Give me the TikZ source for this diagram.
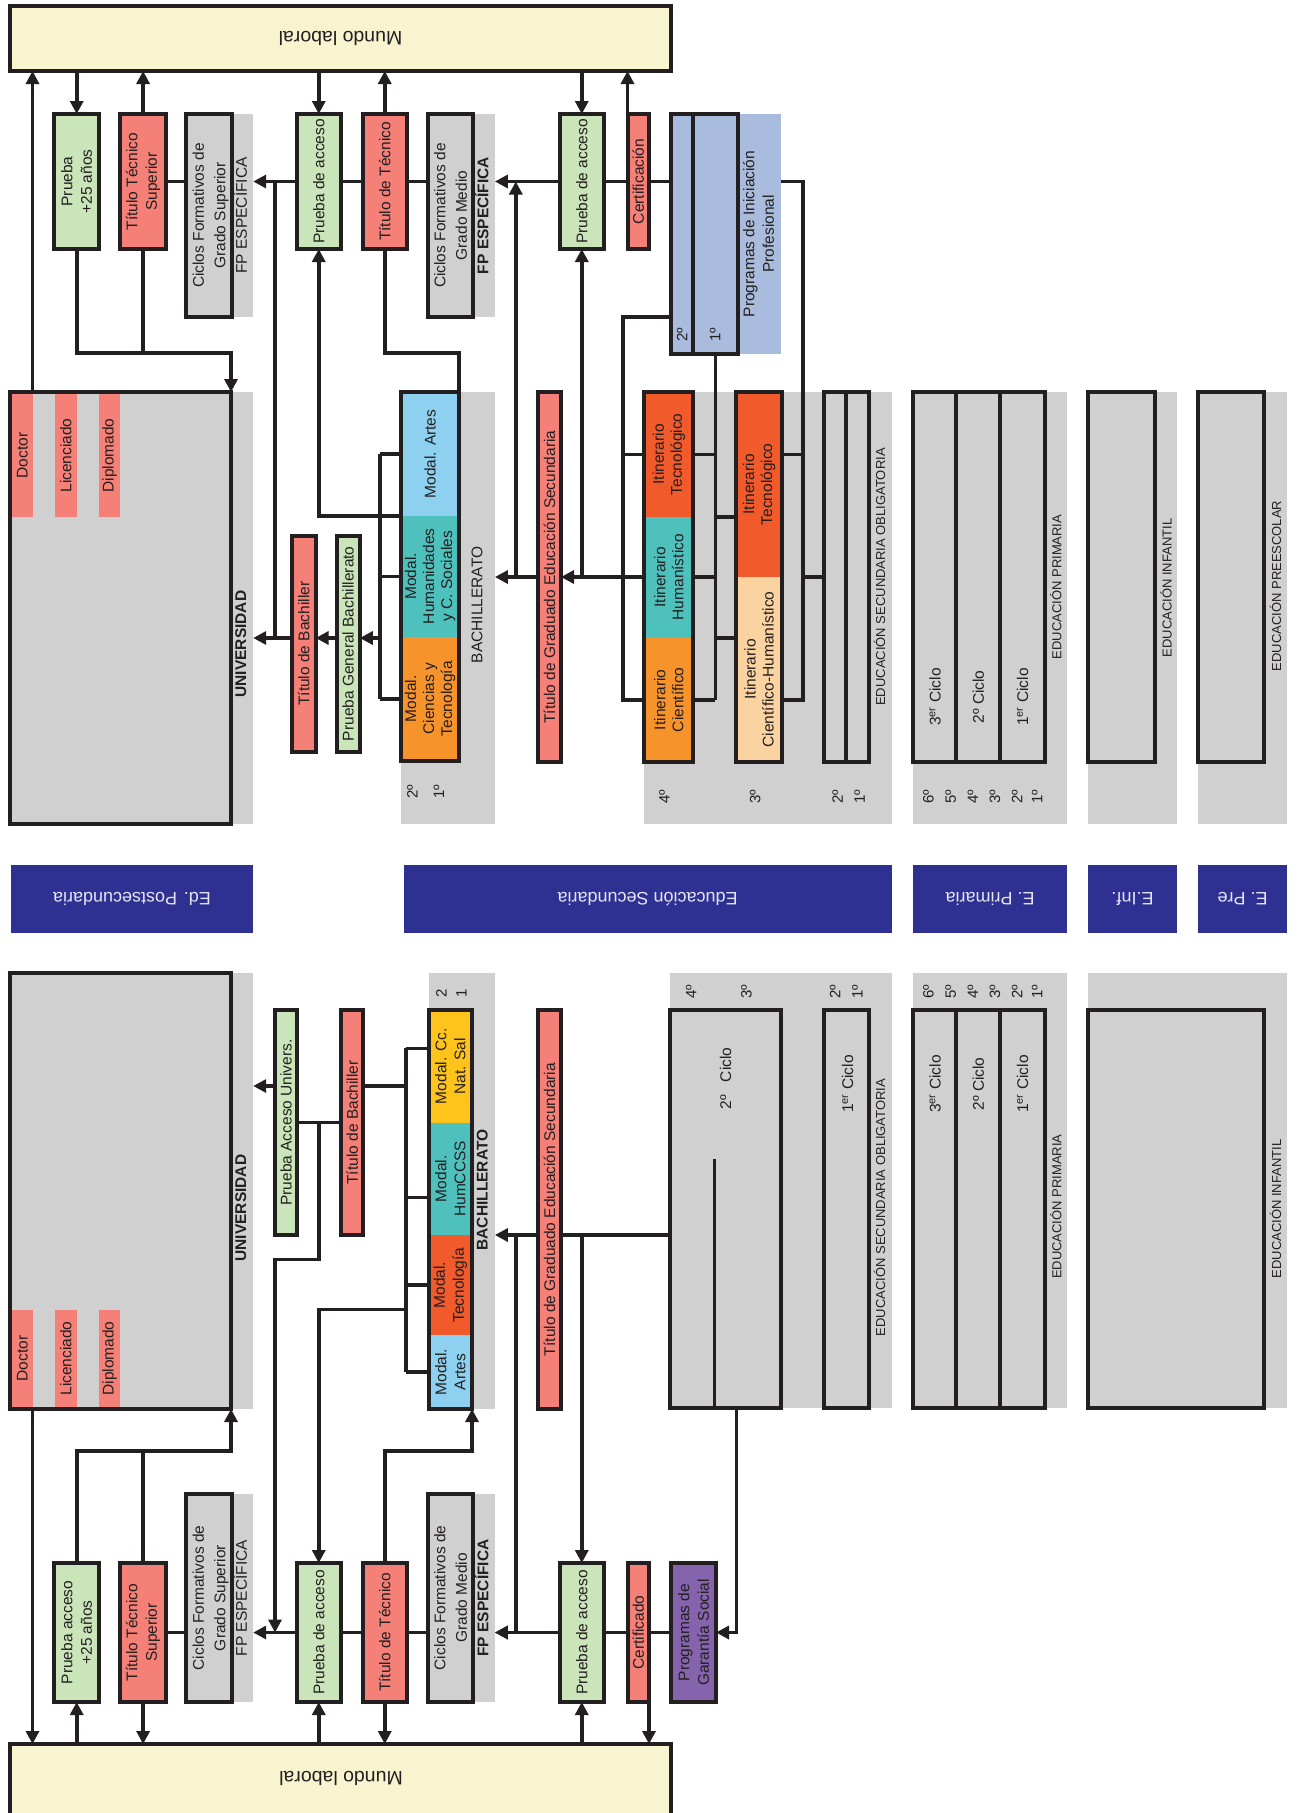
\documentclass[tikz,border=0pt]{standalone}
\usepackage{fontspec}
\setmainfont{Liberation Sans}
\usetikzlibrary{arrows.meta,fit,calc}
\definecolor{ln}{HTML}{231F20}
\definecolor{cream}{HTML}{F8F4D0}
\definecolor{grn}{HTML}{CAE5B9}
\definecolor{rd}{HTML}{F48078}
\definecolor{gy}{HTML}{D0D0D0}
\definecolor{pip}{HTML}{AABCDD}
\definecolor{lb}{HTML}{8ED0EF}
\definecolor{tl}{HTML}{4EC1BD}
\definecolor{org}{HTML}{F7932B}
\definecolor{orr}{HTML}{F15A2A}
\definecolor{yel}{HTML}{FEC41B}
\definecolor{pch}{HTML}{FBD3A0}
\definecolor{pur}{HTML}{8564AD}
\definecolor{dbl}{HTML}{2E3192}
\definecolor{btx}{HTML}{E4E4F2}
\begin{document}
\begin{tikzpicture}[x=1pt,y=-1pt,
  bx/.style={draw=ln, line width=4pt, inner sep=0pt, outer sep=0pt},
  fl/.style={draw=none, inner sep=0pt, outer sep=0pt},
  bar/.style={fl, fill=dbl},
  conn/.style={draw=ln, line width=3.6pt},
  arr/.style={conn, -{Triangle[length=13pt,width=13pt]}},
  dv/.style={draw=ln, line width=3.6pt},
  vt/.style={rotate=90, align=center, text=ln, inner sep=0pt, font=\fontsize{15.5}{19.5}\selectfont},
  vtb/.style={vt, font=\fontsize{15.5}{19.5}\selectfont\bfseries},
  sm/.style={rotate=90, text=ln, inner sep=0pt, font=\fontsize{13}{15}\selectfont},
  num/.style={rotate=90, text=ln, inner sep=0pt, font=\fontsize{15}{18}\selectfont},
  bt/.style={rotate=180, text=btx, inner sep=0pt, font=\fontsize{18}{21}\selectfont},
  ml/.style={rotate=180, text=ln, inner sep=0pt, font=\fontsize{19.5}{23}\selectfont}]
\useasboundingbox (0,0) rectangle (1297,1813);
\clip (0,0) rectangle (1297,1813);

% ---------- named helper coordinates ----------
\coordinate (yT1) at (0,353);
\coordinate (yBA) at (0,638);
\coordinate (yP) at (0,316.7);
\coordinate (xV1) at (275,0);
\coordinate (xV2) at (515.8,0);
\coordinate (xV3) at (622.7,0);
\coordinate (xV4) at (802.8,0);
\coordinate (xV6) at (379.8,0);
\coordinate (yB1) at (0,1086);
\coordinate (yB2) at (0,1259.3);
\coordinate (yB3) at (0,1309.3);
\coordinate (yB4) at (0,1235);
\coordinate (yB5) at (0,1451);
\coordinate (yK1) at (0,1048.3);
\coordinate (yK2) at (0,1197.3);
\coordinate (xV9) at (405.7,0);
\coordinate (xV10) at (736.5,0);

% =================== TOP HALF ===================
% bands
\node[fl, fill=gy, fit={(10,392) (253.2,824)}] (ubandT) {};
\node[fl, fill=gy, fit={(186.4,114) (253.2,317)}] (cgsbT) {};
\node[fl, fill=gy, fit={(428,114) (494.9,317)}] (cgmbT) {};
\node[fl, fill=pip, fit={(671,114) (781,354)}] (pipbT) {};
\node[fl, fill=gy, fit={(401.2,392) (494.9,824)}] (bbandT) {};
\node[fl, fill=gy, fit={(644.4,392) (891.6,824)}] (esobandT) {};
\node[fl, fill=gy, fit={(913,392) (1067,824)}] (prbandT) {};
\node[fl, fill=gy, fit={(1088,392) (1177,824)}] (infbandT) {};
\node[fl, fill=gy, fit={(1198.3,392) (1287,824)}] (prebandT) {};

% boxes
\node[bx, fill=cream, fit={(10,6) (671,71)}] (mundoT) {};
\node[ml] at (mundoT) {Mundo laboral};

\node[bx, fill=gy, fit={(10,392) (231,824)}] (univT) {};
\node[fl, fill=rd, fit={(12,394) (32.5,517)}] (docT) {};
\node[fl, fill=rd, fit={(54.8,394) (76.7,517)}] (licT) {};
\node[fl, fill=rd, fit={(99,394) (120.4,517)}] (dipT) {};
\node[vt] at (docT) {Doctor};
\node[vt] at (licT) {Licenciado};
\node[vt] at (dipT) {Diplomado};
\node[vtb] at (240.7,644) {UNIVERSIDAD};

\node[bx, fill=grn, fit={(54.4,114) (99,249)}] (p25T) {};
\node[vt] at (p25T) {Prueba\\+25 años};
\node[bx, fill=rd, fit={(120.4,114) (165.8,249)}] (ttsT) {};
\node[vt] at (ttsT) {Título Técnico\\Superior};
\node[bx, fill=gy, fit={(186.4,114) (231.8,317)}] (cgsT) {};
\node[vt, font=\fontsize{15.5}{21.5}\selectfont] at (cgsbT) {Ciclos Formativos de\\Grado Superior\\FP ESPECÍFICA};
\node[bx, fill=grn, fit={(296.5,114) (341,249)}] (pgsT) {};
\node[vt] at (pgsT) {Prueba de acceso};
\node[bx, fill=rd, fit={(362.5,114) (407,249)}] (titT) {};
\node[vt] at (titT) {Título de Técnico};
\node[bx, fill=gy, fit={(428,114) (472.6,317)}] (cgmT) {};
\node[vt, font=\fontsize{15.5}{21.5}\selectfont] at (cgmbT) {Ciclos Formativos de\\Grado Medio\\\textbf{FP ESPECÍFICA}};
\node[bx, fill=grn, fit={(559.5,114) (604,249)}] (pgmT) {};
\node[vt] at (pgmT) {Prueba de acceso};
\node[bx, fill=rd, fit={(627.5,114) (649,249)}] (certT) {};
\node[vt] at (certT) {Certificación};
\node[bx, fill=pip, fit={(671,114) (693.2,354)}] (pip2T) {};
\node[bx, fill=pip, fit={(693.2,114) (737.6,354)}] (pip1T) {};
\node[num] at (682,335) {2º};
\node[num] at (715,335) {1º};
\node[vt] at ($(pip1T.east)+(21,0)$) {Programas de Iniciación\\Profesional};

\node[bx, fill=rd, fit={(292,535.7) (315.6,751.7)}] (tbT) {};
\node[vt] at (tbT) {Título de Bachiller};
\node[bx, fill=grn, fit={(336.6,535.7) (359.8,751.7)}] (pgbT) {};
\node[vt] at (pgbT) {Prueba General Bachillerato};

\node[fl, fill=lb, fit={(401.2,392) (459.2,516)}] (bArtT) {};
\node[fl, fill=tl, fit={(401.2,516) (459.2,636.7)}] (bHumT) {};
\node[fl, fill=org, fit={(401.2,636.7) (459.2,761)}] (bCieT) {};
\node[bx, fit={(401.2,392) (459.2,761)}] (bachT) {};
\node[vt] at (bArtT) {Modal. Artes};
\node[vt, font=\fontsize{15.5}{18}\selectfont] at (bHumT) {Modal.\\Humanidades\\y C. Sociales};
\node[vt, font=\fontsize{15.5}{18}\selectfont] at (bCieT) {Modal.\\Ciencias y\\Tecnología};
\node[vt] at (477,605) {BACHILLERATO};
\node[num] at (412.4,791.7) {2º};
\node[num] at (439,791.7) {1º};

\node[bx, fill=rd, fit={(538,392) (561,762)}] (tgT) {};
\node[vt] at (tgT) {Título de Graduado Educación Secundaria};

\node[fl, fill=orr, fit={(644.4,392) (693.2,516.7)}] (i4tT) {};
\node[fl, fill=tl, fit={(644.4,516.7) (693.2,637.7)}] (i4hT) {};
\node[fl, fill=org, fit={(644.4,637.7) (693.2,762)}] (i4cT) {};
\node[bx, fit={(644.4,392) (693.2,762)}] (it4T) {};
\node[vt, font=\fontsize{15.5}{18}\selectfont] at (i4tT) {Itinerario\\Tecnológico};
\node[vt, font=\fontsize{15.5}{18}\selectfont] at (i4hT) {Itinerario\\Humanístico};
\node[vt, font=\fontsize{15.5}{18}\selectfont] at (i4cT) {Itinerario\\Científico};

\node[fl, fill=orr, fit={(736,392) (782,576.7)}] (i3tT) {};
\node[fl, fill=pch, fit={(736,576.7) (782,762)}] (i3cT) {};
\node[bx, fit={(736,392) (782,762)}] (it3T) {};
\node[vt, font=\fontsize{15.5}{18}\selectfont] at (i3tT) {Itinerario\\Tecnológico};
\node[vt, font=\fontsize{15.5}{18}\selectfont] at (i3cT) {Itinerario\\Científico-Humanístico};

\node[bx, fill=gy, fit={(824,392) (846.3,762)}] (eso2T) {};
\node[bx, fill=gy, fit={(846.3,392) (869.4,762)}] (eso1T) {};
\node[sm] at (879.6,577) {EDUCACIÓN SECUNDARIA OBLIGATORIA};
\node[num] at (664.4,797) {4º};
\node[num] at (755.3,797) {3º};
\node[num] at (837.5,797) {2º};
\node[num] at (859.7,797) {1º};

\node[bx, fill=gy, fit={(913,392) (956.4,762)}] (pr3T) {};
\node[bx, fill=gy, fit={(956.4,392) (1000.4,762)}] (pr2T) {};
\node[bx, fill=gy, fit={(1000.4,392) (1044.7,762)}] (pr1T) {};
\node[vt] at (935,697) {3\textsuperscript{er} Ciclo};
\node[vt] at (978.4,697) {2º Ciclo};
\node[vt] at (1022.5,697) {1\textsuperscript{er} Ciclo};
\node[num] at (928.5,797) {6º};
\node[num] at (950.6,797) {5º};
\node[num] at (972.8,797) {4º};
\node[num] at (995,797) {3º};
\node[num] at (1017,797) {2º};
\node[num] at (1037,797) {1º};
\node[sm] at (1055.8,587) {EDUCACIÓN PRIMARIA};

\node[bx, fill=gy, fit={(1088,392) (1154.8,762)}] (infT) {};
\node[sm] at (1166,588) {EDUCACIÓN INFANTIL};
\node[bx, fill=gy, fit={(1198.3,392) (1264.4,762)}] (preT) {};
\node[sm] at (1275.5,586) {EDUCACIÓN PREESCOLAR};

% top connectors
\draw[arr] (univT.north -| docT.east) -- (mundoT.south -| docT.east);
\draw[arr] (mundoT.south -| p25T.north) -- (p25T.north);
\draw[arr] (ttsT.north) -- (ttsT.north |- mundoT.south);
\draw[arr] (mundoT.south -| pgsT.north) -- (pgsT.north);
\draw[arr] (titT.north) -- (titT.north |- mundoT.south);
\draw[arr] (mundoT.south -| pgmT.north) -- (pgmT.north);
\draw[arr] (certT.north west) -- (certT.north west |- mundoT.south);

\draw[arr] (p25T.south) -- (p25T.south |- yT1) -| (univT.north east);
\draw[conn] (ttsT.south) -- (ttsT.south |- yT1);
\draw[conn] (titT.south) -- (titT.south |- yT1) -| (bachT.north east);

\draw[conn] (ttsT.east) -- (ttsT.east -| cgsT.west);
\draw[arr] (pgsT.west) -- (pgsT.west -| cgsbT.east);
\draw[conn] (pgsT.east) -- (titT.west);
\draw[conn] (titT.east) -- (titT.east -| cgmT.west);
\draw[arr] (pgmT.west) -- (pgmT.west -| cgmbT.east);
\draw[conn] (pgmT.east) -- (certT.west);
\draw[conn] (certT.east) -- (certT.east -| pip2T.west);

\draw[conn] (xV1 |- pgsT.west) -- (xV1 |- yBA);
\draw[arr] (tbT.west |- yBA) -- (ubandT.east |- yBA);
\draw[arr] (pgbT.west |- yBA) -- (tbT.east |- yBA);
\draw[arr] (xV6 |- yBA) -- (pgbT.east |- yBA);
\draw[conn] (xV6 |- bArtT.west) -- (xV6 |- bCieT.west);
\draw[conn] (xV6 |- bArtT.west) -- (bArtT.west);
\draw[conn] (xV6 |- bHumT.west) -- (bHumT.west);
\draw[conn] (xV6 |- bCieT.west) -- (bCieT.west);
\draw[arr] (bArtT.south west) -| (pgsT.south);

\draw[arr] (xV2 |- tgT.west) -- (xV2 |- pgmT.west);
\draw[arr] (tgT.west) -- (tgT.west -| bbandT.east);

\draw[conn] (pip2T.west |- yP) -- (xV3 |- yP) -- (xV3 |- i4cT.west) -- (i4cT.west);
\draw[conn] (xV3 |- i4tT.west) -- (i4tT.west);
\draw[conn] (xV3 |- i4hT.west) -- (i4hT.west);
\draw[arr] (xV3 |- tgT.east) -- (tgT.east);
\draw[arr] (pgmT.south |- tgT.east) -- (pgmT.south);

\draw[conn] (pip1T.south) -- (pip1T.south |- i4cT.east);
\draw[conn] (i4tT.east) -- (i4tT.east -| pip1T.south);
\draw[conn] (i4hT.east) -- (i4hT.east -| pip1T.south);
\draw[conn] (i4cT.east) -- (i4cT.east -| pip1T.south);
\draw[conn] (i4hT.north -| pip1T.south) -- (i4hT.north -| it3T.west);
\draw[conn] (i4cT.north -| pip1T.south) -- (i4cT.north -| it3T.west);

\draw[conn] (pipbT.east |- certT.east) -| (xV4 |- i4cT.east) -- (i4cT.east -| it3T.east);
\draw[conn] (xV4 |- i4tT.east) -- (i4tT.east -| it3T.east);
\draw[conn] (xV4 |- i4hT.east) -- (i4hT.east -| eso2T.west);

% =================== BLUE BARS ===================
\node[bar, fit={(11,865) (253,932.5)}] (barPost) {};
\node[bt] at (barPost) {Ed. Postsecundaria};
\node[bar, fit={(403.5,865) (891.6,932.5)}] (barSec) {};
\node[bt] at (barSec) {Educación Secundaria};
\node[bar, fit={(913,865) (1067,932.5)}] (barPri) {};
\node[bt] at (barPri) {E. Primaria};
\node[bar, fit={(1088,865) (1177,932.5)}] (barInf) {};
\node[bt] at (barInf) {E.Inf.};
\node[bar, fit={(1198.3,865) (1287,932.5)}] (barPre) {};
\node[bt] at (barPre) {E. Pre};

% =================== BOTTOM HALF ===================
\node[fl, fill=gy, fit={(10,973) (253.2,1409)}] (ubandB) {};
\node[fl, fill=gy, fit={(428.5,973) (494.9,1409)}] (bbandB) {};
\node[fl, fill=gy, fit={(670.1,973) (891.6,1408)}] (esobandB) {};
\node[fl, fill=gy, fit={(913,973) (1067,1408)}] (prbandB) {};
\node[fl, fill=gy, fit={(1088,973) (1287,1408)}] (infbandB) {};
\node[fl, fill=gy, fit={(186.4,1494) (253.2,1702)}] (cgsbB) {};
\node[fl, fill=gy, fit={(428,1494) (494.9,1702)}] (cgmbB) {};

\node[bx, fill=gy, fit={(10,973) (231,1409)}] (univB) {};
\node[fl, fill=rd, fit={(12,1310) (32.5,1407)}] (docB) {};
\node[fl, fill=rd, fit={(54.8,1310) (76.7,1407)}] (licB) {};
\node[fl, fill=rd, fit={(99,1310) (120.4,1407)}] (dipB) {};
\node[vt] at (docB) {Doctor};
\node[vt] at (licB) {Licenciado};
\node[vt] at (dipB) {Diplomado};
\node[vtb] at (240.7,1208) {UNIVERSIDAD};

\node[bx, fill=grn, fit={(275,1010) (297.4,1235)}] (pauB) {};
\node[vt] at (pauB) {Prueba Acceso Univers.};
\node[bx, fill=rd, fit={(341,1010) (363.4,1235)}] (tbB) {};
\node[vt] at (tbB) {Título de Bachiller};

\node[fl, fill=yel, fit={(428.5,1010) (472,1122.7)}] (bCcB) {};
\node[fl, fill=tl, fit={(428.5,1122.7) (472,1235)}] (bHumB) {};
\node[fl, fill=orr, fit={(428.5,1235) (472,1335)}] (bTecB) {};
\node[fl, fill=lb, fit={(428.5,1335) (472,1409)}] (bArtB) {};
\node[bx, fit={(428.5,1010) (472,1409)}] (bachB) {};
\node[vt, font=\fontsize{15.5}{19}\selectfont] at (bCcB) {Modal. Cc.\\Nat. Sal};
\node[vt, font=\fontsize{15.5}{19}\selectfont] at (bHumB) {Modal.\\HumCCSS};
\node[vt, font=\fontsize{15.5}{19}\selectfont] at (bTecB) {Modal.\\Tecnología};
\node[vt, font=\fontsize{15.5}{19}\selectfont] at (bArtB) {Modal.\\Artes};
\node[vtb] at (482.4,1190) {BACHILLERATO};
\node[num] at (441.4,993.3) {2};
\node[num] at (461.4,993.3) {1};

\node[bx, fill=rd, fit={(538,1010) (561,1409)}] (tgB) {};
\node[vt] at (tgB) {Título de Graduado Educación Secundaria};

\node[bx, fill=gy, fit={(670.1,1010) (781,1408)}] (esoB) {};
\draw[dv] (714.5,1159.3) -- (714.5,1408);
\node[vt] at (725.6,1078.5) {2º\hspace{13pt}Ciclo};
\node[bx, fill=gy, fit={(824,1010) (869.4,1408)}] (eso1B) {};
\node[vt] at (847.7,1084) {1\textsuperscript{er} Ciclo};
\node[sm] at (879.6,1207.5) {EDUCACIÓN SECUNDARIA OBLIGATORIA};
\node[num] at (691,991.7) {4º};
\node[num] at (746.5,991.7) {3º};
\node[num] at (835,991.7) {2º};
\node[num] at (857.4,991.7) {1º};

\node[bx, fill=gy, fit={(913,1010) (956.4,1408)}] (pr3B) {};
\node[bx, fill=gy, fit={(956.4,1010) (1000.4,1408)}] (pr2B) {};
\node[bx, fill=gy, fit={(1000.4,1010) (1044.7,1408)}] (pr1B) {};
\node[vt] at (935,1084) {3\textsuperscript{er} Ciclo};
\node[vt] at (978.4,1084) {2º Ciclo};
\node[vt] at (1022.5,1084) {1\textsuperscript{er} Ciclo};
\node[num] at (928.5,991.7) {6º};
\node[num] at (950.6,991.7) {5º};
\node[num] at (972.8,991.7) {4º};
\node[num] at (995,991.7) {3º};
\node[num] at (1017,991.7) {2º};
\node[num] at (1037,991.7) {1º};
\node[sm] at (1055.8,1206.7) {EDUCACIÓN PRIMARIA};

\node[bx, fill=gy, fit={(1088,1010) (1264.4,1408)}] (infB) {};
\node[sm] at (1275.5,1209) {EDUCACIÓN INFANTIL};

% FP row bottom
\node[bx, fill=grn, fit={(54.4,1563) (99,1702)}] (p25B) {};
\node[vt] at (p25B) {Prueba acceso\\+25 años};
\node[bx, fill=rd, fit={(120.4,1563) (165.8,1702)}] (ttsB) {};
\node[vt] at (ttsB) {Título Técnico\\Superior};
\node[bx, fill=gy, fit={(186.4,1494) (231.8,1702)}] (cgsB) {};
\node[vt, font=\fontsize{15.5}{21.5}\selectfont] at (cgsbB) {Ciclos Formativos de\\Grado Superior\\FP ESPECÍFICA};
\node[bx, fill=grn, fit={(296.5,1563) (341,1702)}] (pgsB) {};
\node[vt] at (pgsB) {Prueba de acceso};
\node[bx, fill=rd, fit={(362.5,1563) (407,1702)}] (titB) {};
\node[vt] at (titB) {Título de Técnico};
\node[bx, fill=gy, fit={(428,1494) (472.6,1702)}] (cgmB) {};
\node[vt, font=\fontsize{15.5}{21.5}\selectfont] at (cgmbB) {Ciclos Formativos de\\Grado Medio\\\textbf{FP ESPECÍFICA}};
\node[bx, fill=grn, fit={(559.5,1563) (604,1702)}] (pgmB) {};
\node[vt] at (pgmB) {Prueba de acceso};
\node[bx, fill=rd, fit={(627.5,1563) (649,1702)}] (certB) {};
\node[vt] at (certB) {Certificado};
\node[bx, fill=pur, fit={(671,1563) (716,1702)}] (pgsocB) {};
\node[vt] at (pgsocB) {Programas de\\Garantía Social};

\node[bx, fill=cream, fit={(10,1744) (671,1830)}] (mundoB) {};
\node[ml] at (341,1778) {Mundo laboral};

% bottom connectors
\draw[arr] (univB.south -| docB.east) -- (mundoB.north -| docB.east);
\draw[arr] (mundoB.north -| p25B.south) -- (p25B.south);
\draw[arr] (p25B.north) -- (p25B.north |- yB5) -| (univB.south east);
\draw[conn] (ttsB.north) -- (ttsB.north |- yB5);
\draw[arr] (ttsB.south) -- (ttsB.south |- mundoB.north);
\draw[conn] (ttsB.east) -- (ttsB.east -| cgsB.west);
\draw[arr] (pgsB.west) -- (pgsB.west -| cgsbB.east);
\draw[arr] (mundoB.north -| pgsB.south) -- (pgsB.south);
\draw[conn] (pgsB.east) -- (titB.west);
\draw[arr] (titB.north) -- (titB.north |- yB5) -| (bachB.south east);
\draw[arr] (titB.south) -- (titB.south |- mundoB.north);
\draw[conn] (titB.east) -- (titB.east -| cgmB.west);
\draw[arr] (pgmB.west) -- (pgmB.west -| cgmbB.east);
\draw[arr] (mundoB.north -| pgmB.south) -- (pgmB.south);
\draw[conn] (pgmB.east) -- (certB.west);
\draw[conn] (certB.east) -- (pgsocB.west);
\draw[arr] (certB.south east) -- (certB.south east |- mundoB.north);

\draw[arr] (pauB.west |- yB1) -- (ubandB.east |- yB1);
\draw[conn] (pauB.east) -- (tbB.west);
\draw[arr] (pauB.east -| pgsB.north) -- (pgsB.north |- yB2) -| (pauB.west |- pgsB.west);
\draw[conn] (tbB.east |- yB1) -- (xV9 |- yB1);
\draw[conn] (xV9 |- yK1) -- (xV9 |- bArtB.west);
\draw[conn] (xV9 |- yK1) -- (bachB.west |- yK1);
\draw[conn] (xV9 |- yK2) -- (bachB.west |- yK2);
\draw[conn] (xV9 |- bTecB.west) -- (bTecB.west);
\draw[conn] (xV9 |- bArtB.west) -- (bArtB.west);
\draw[arr] (xV9 |- yB3) -| (pgsB.north);

\draw[arr] (tgB.west |- yB4) -- (bbandB.east |- yB4);
\draw[arr] (xV2 |- yB4) |- (cgmbB.east |- pgmB.west);
\draw[conn] (esoB.west |- yB4) -- (tgB.east |- yB4);
\draw[arr] (pgmB.north |- yB4) -- (pgmB.north);
\draw[arr] (xV10 |- esoB.south) -- (xV10 |- pgsocB.east) -- (pgsocB.east);
\end{tikzpicture}
\end{document}
